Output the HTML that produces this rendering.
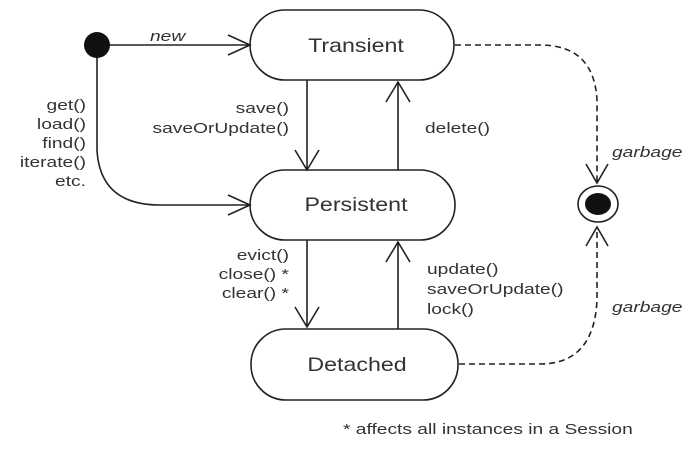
<!DOCTYPE html>
<html><head><style>
body{margin:0;background:#fff}
svg text{font-family:"Liberation Sans",Arial,sans-serif;fill:#333}
</style></head><body>
<svg width="695" height="449" viewBox="0 0 695 449" xmlns="http://www.w3.org/2000/svg">
<g fill="none" stroke="#222" stroke-width="1.6">
<rect x="250" y="10" width="204" height="70" rx="35"/>
<rect x="250" y="170" width="205" height="70" rx="35"/>
<rect x="251" y="329" width="207" height="71" rx="35"/>
<path d="M105 45 H250 M228 35 L250 45 L228 55"/>
<path d="M97 50 V150 Q100 205 160 205 H250 M228 195 L250 205 L228 215"/>
<path d="M307 80 V170 M295 150 L307 170 L319 150"/>
<path d="M398 170 V82 M386 102 L398 82 L410 102"/>
<path d="M307 240 V327 M295 307 L307 327 L319 307"/>
<path d="M398 329 V242 M386 262 L398 242 L410 262"/>
<path d="M586 164 L597 183 L608 164 M586 246 L597 227 L608 246"/>
<ellipse cx="598" cy="204" rx="20" ry="18"/>
</g>
<g fill="none" stroke="#222" stroke-width="1.6" stroke-dasharray="6,4">
<path d="M455 45 H540 Q594 45 597 100 V182"/>
<path d="M459 364 H540 Q594 364 597 300 V228"/>
</g>
<circle cx="97" cy="45" r="13" fill="#111"/>
<ellipse cx="598" cy="204" rx="13" ry="11" fill="#111"/>
<g font-size="19" text-anchor="middle">
<g transform="translate(356,52) scale(1.22,1)"><text>Transient</text></g>
<g transform="translate(356,211) scale(1.22,1)"><text>Persistent</text></g>
<g transform="translate(357,371) scale(1.22,1)"><text>Detached</text></g>
</g>
<g font-size="15">
<g transform="translate(150,41) scale(1.28,1)"><text font-style="italic">new</text></g>
<g transform="translate(612,157) scale(1.28,1)"><text font-style="italic">garbage</text></g>
<g transform="translate(612,312) scale(1.28,1)"><text font-style="italic">garbage</text></g>
<g transform="translate(425,133) scale(1.28,1)"><text>delete()</text></g>
<g transform="translate(427,274) scale(1.28,1)"><text>update()</text></g>
<g transform="translate(427,294) scale(1.28,1)"><text>saveOrUpdate()</text></g>
<g transform="translate(427,314) scale(1.28,1)"><text>lock()</text></g>
<g transform="translate(343,434) scale(1.28,1)"><text>* affects all instances in a Session</text></g>
</g>
<g font-size="15" text-anchor="end">
<g transform="translate(289,113) scale(1.28,1)"><text>save()</text></g>
<g transform="translate(289,133) scale(1.28,1)"><text>saveOrUpdate()</text></g>
<g transform="translate(86,110) scale(1.28,1)"><text>get()</text></g>
<g transform="translate(86,129) scale(1.28,1)"><text>load()</text></g>
<g transform="translate(86,148) scale(1.28,1)"><text>find()</text></g>
<g transform="translate(86,167) scale(1.28,1)"><text>iterate()</text></g>
<g transform="translate(86,186) scale(1.28,1)"><text>etc.</text></g>
<g transform="translate(289,260) scale(1.28,1)"><text>evict()</text></g>
<g transform="translate(289,279) scale(1.28,1)"><text>close() *</text></g>
<g transform="translate(289,298) scale(1.28,1)"><text>clear() *</text></g>
</g>
</svg>
</body></html>
